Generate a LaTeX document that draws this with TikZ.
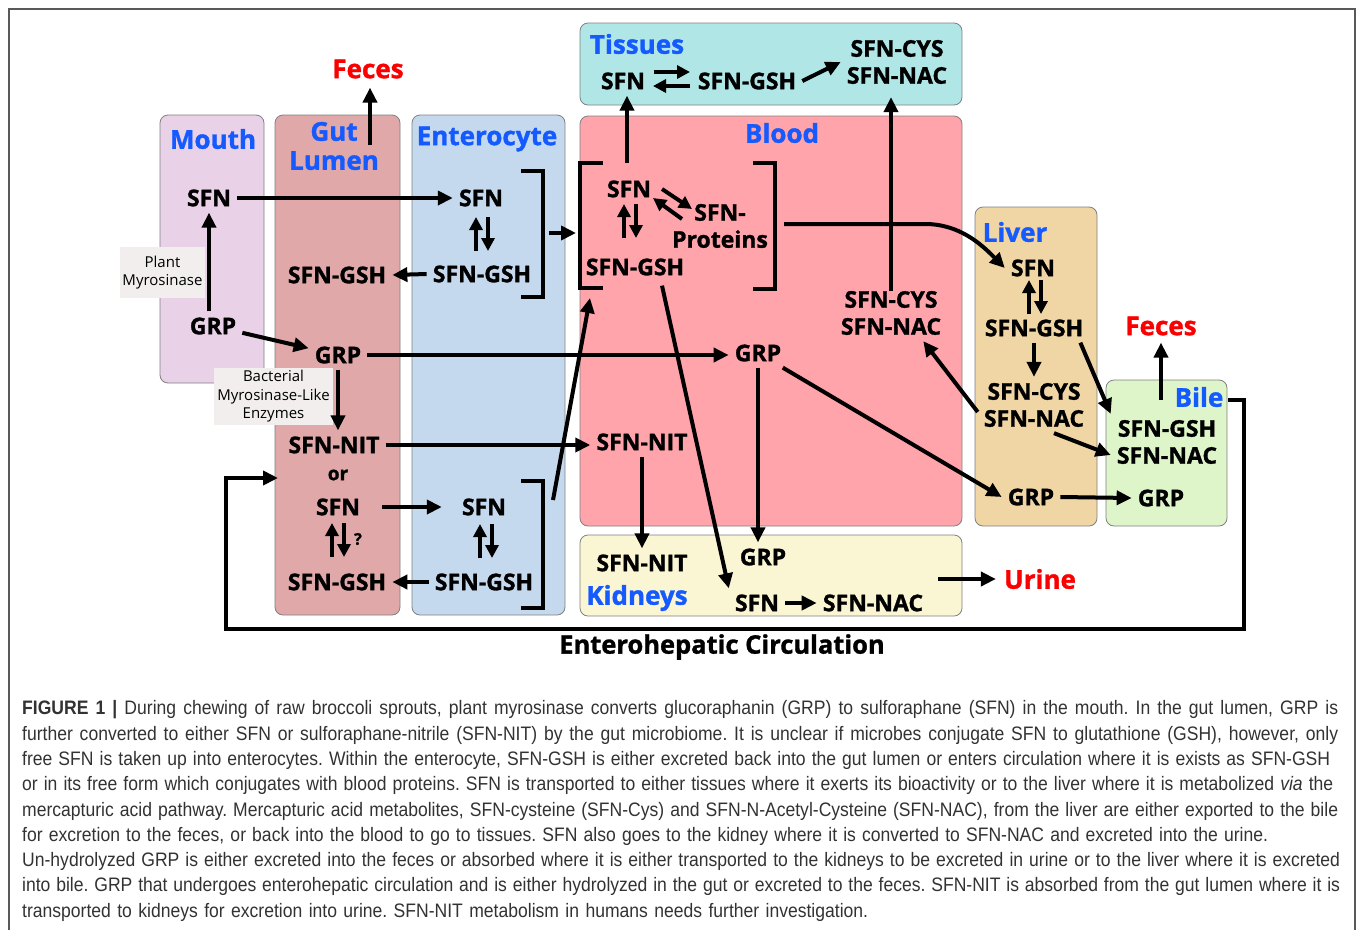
\documentclass[tikz,border=0pt]{standalone}
\usepackage{fontspec}
\setmainfont{Open Sans}[BoldFeatures={FakeBold=1.3}]
\newfontfamily\capfont[FakeStretch=0.9]{Liberation Sans}
\newcommand\capline[2][1316pt]{\makebox[#1][s]{#2}}
\usetikzlibrary{arrows.meta}
\tikzset{>={Triangle[length=15pt,width=14pt]}}
\definecolor{mouthfill}{RGB}{233,209,232}
\definecolor{gutfill}{RGB}{224,168,168}
\definecolor{enterofill}{RGB}{197,217,238}
\definecolor{tissuefill}{RGB}{176,230,230}
\definecolor{bloodfill}{RGB}{255,164,170}
\definecolor{liverfill}{RGB}{240,213,165}
\definecolor{bilefill}{RGB}{222,245,202}
\definecolor{kidneyfill}{RGB}{250,245,210}
\definecolor{enzymegray}{RGB}{242,238,238}
\definecolor{placeblue}{RGB}{20,90,255}
\definecolor{sinkred}{RGB}{250,0,0}
\definecolor{captext}{RGB}{50,50,50}

\begin{document}
\begin{tikzpicture}[x=1pt,y=-1pt,
    organ/.style={draw=black!50, line width=0.8pt, rounded corners=8pt},
    spec/.style={font=\fontsize{23}{27}\selectfont\bfseries, align=center, inner sep=6pt},
    place/.style={font=\fontsize{26}{29}\selectfont\bfseries, text=placeblue, align=center, inner sep=0pt},
    sink/.style={font=\fontsize{26}{29}\selectfont\bfseries, text=sinkred, inner sep=2pt},
    enzyme/.style={fill=enzymegray, font=\fontsize{15}{18.5}\selectfont, align=center, inner sep=0pt},
    flow/.style={->, line width=4pt},
    swap/.style={-{Triangle[length=13pt,width=13pt]}, line width=4pt},
    bracket/.style={line width=4pt}]
    \useasboundingbox (0,0) rectangle (1358,930);
    \draw[black!65, line width=2pt] (9,930) -- (9,9) -- (1355,9) -- (1355,930);

    \draw[organ, fill=mouthfill] (160,115) rectangle (264,383);
    \draw[organ, fill=gutfill] (275,115) rectangle (400,615);
    \draw[organ, fill=enterofill] (412,115) rectangle (565,615);
    \draw[organ, fill=tissuefill] (580,23) rectangle (962,105);
    \draw[organ, fill=bloodfill] (580,116) rectangle (962,526);
    \draw[organ, fill=kidneyfill] (580,535) rectangle (962,616);
    \draw[organ, fill=liverfill] (975,207) rectangle (1097,526);
    \draw[organ, fill=bilefill] (1106,380) rectangle (1227,526);

    \node[enzyme, minimum width=85pt, minimum height=51pt] (plant) at (162.5,272.5) {Plant\\Myrosinase};
    \node[enzyme, minimum width=119pt, minimum height=57pt] (bact) at (273.5,396.5) {Bacterial\\Myrosinase-Like\\Enzymes};

    \node[place] (mouth) at (213,139) {Mouth};
    \node[place] (gut) at (334,146) {Gut\\Lumen};
    \node[place] (entero) at (487,139) {Enterocyte};
    \node[place] (tissues) at (637,44) {Tissues};
    \node[place] (blood) at (782,133) {Blood};
    \node[place] (liver) at (1015,232) {Liver};
    \node[place] (bile) at (1199,397) {Bile};
    \node[place] (kidneys) at (637,598) {Kidneys};

    \node[sink] (lfeces) at (368,69) {Feces};
    \node[sink] (yfeces) at (1161,326) {Feces};
    \node[sink] (urine) at (1040,579) {Urine};

    \node[spec] (msfn) at (209,198) {SFN};
    \node[spec] (mgrp) at (213,326) {GRP};
    \node[spec] (lgsh) at (337,275) {SFN-GSH};
    \node[spec] (lgrp) at (338,355) {GRP};
    \node[spec] (lnit) at (334,445) {SFN-NIT};
    \node[spec, font=\fontsize{19}{22}\selectfont\bfseries] (lor) at (338,475) {or};
    \node[spec] (lsfn) at (338,507) {SFN};
    \node[spec] (lgsh2) at (337,582) {SFN-GSH};
    \node[spec, font=\fontsize{16}{18}\selectfont\bfseries, inner sep=0pt] (lq) at (358,539) {?};
    \node[spec] (esfn) at (481,198) {SFN};
    \node[spec] (egsh) at (482,274) {SFN-GSH};
    \node[spec] (esfn2) at (484,507) {SFN};
    \node[spec] (egsh2) at (484,582) {SFN-GSH};
    \node[spec] (tsfn) at (623,81) {SFN};
    \node[spec] (tgsh) at (747,81) {SFN-GSH};
    \node[spec] (tcys) at (897,62) {SFN-CYS\\SFN-NAC};
    \node[spec] (bsfn) at (629,189) {SFN};
    \node[spec] (bprot) at (720,226) {SFN-\\Proteins};
    \node[spec] (bgsh) at (635,267) {SFN-GSH};
    \node[spec] (bcys) at (891,313) {SFN-CYS\\SFN-NAC};
    \node[spec] (bgrp) at (758,353) {GRP};
    \node[spec] (bnit) at (642,442) {SFN-NIT};
    \node[spec] (knit) at (642,563) {SFN-NIT};
    \node[spec] (kgrp) at (763,557) {GRP};
    \node[spec] (ksfn) at (757,603) {SFN};
    \node[spec] (knac) at (873,603) {SFN-NAC};
    \node[spec] (vsfn) at (1033,268) {SFN};
    \node[spec] (vgsh) at (1034,328) {SFN-GSH};
    \node[spec] (vcys) at (1034,405) {SFN-CYS\\SFN-NAC};
    \node[spec] (vgrp) at (1031,497) {GRP};
    \node[spec] (ygsh) at (1167,442) {SFN-GSH\\SFN-NAC};
    \node[spec] (ygrp) at (1161,498) {GRP};
    \node[font=\fontsize{25.5}{28}\selectfont\bfseries] (circ) at (722,647) {Enterohepatic Circulation};

    \draw[bracket] (521,171) -- (543,171) -- (543,297) -- (521,297);
    \draw[bracket] (521,481) -- (543,481) -- (543,608) -- (521,608);
    \draw[bracket] (603,163) -- (580,163) -- (580,288) -- (603,288);
    \draw[bracket] (753,163) -- (775,163) -- (775,289) -- (753,289);
    \coordinate (ebout) at (549,233);
    \coordinate (bbin) at (576,233);
    \coordinate (ebout2) at (553,500);
    \coordinate (bbbot) at (590,298);
    \coordinate (bbtop) at (627,163);
    \coordinate (bbright) at (784,224);
    \coordinate (lout) at (370,145);
    \coordinate (yout) at (1161,400);
    \coordinate (kout) at (938,579);
    \coordinate (ehout) at (1228,400);
    \coordinate (ehin) at (278,478);

    \foreach \x/\y in {482/234, 486/541, 338/540, 630/221, 1035/297} {
        \draw[swap] (\x-6,\y+17) -- (\x-6,\y-17);
        \draw[swap] (\x+6,\y-17) -- (\x+6,\y+17);
    }
    \draw[swap] (654,72) -- (690,72);
    \draw[swap] (690,86) -- (653,86);
    \draw[swap] (662,189) -- (692,209);
    \draw[swap] (682,219) -- (653,198);

    \draw[flow] (mgrp.north -| msfn) -- (msfn.south);
    \draw[flow] (msfn) -- (esfn);
    \draw[flow] (mgrp) -- (lgrp);
    \draw[flow] (lgrp.south) -- (lgrp.south |- lnit.north);
    \draw[flow] (lgrp.east) -- (lgrp.east -| bgrp.west);
    \draw[flow] (lnit.east) -- (lnit.east -| bnit.west);
    \draw[flow, shorten <=16pt, shorten >=14pt] (lsfn.east) -- (lsfn.east -| esfn2.west);
    \draw[flow] (egsh.west) -- (lgsh.east);
    \draw[flow] (egsh2.west) -- (lgsh2.east);
    \draw[flow, shorten >=7pt] (lout) -- (lout |- lfeces.south);
    \draw[flow] (ebout) -- (bbin);
    \draw[flow] (ebout2) -- (bbbot);
    \draw[flow] (tgsh.east) -- (tcys.west);
    \draw[flow] (bbtop) -- (bbtop |- tsfn.south);
    \draw[flow, shorten <=-6pt, shorten >=7pt] (bcys.north) -- (bcys.north |- tcys.south);
    \draw[flow] (bbright) -- (925,224) .. controls (960,224) and (982,245) .. (vsfn.west);
    \draw[flow] (bgrp.south) -- (bgrp.south |- kgrp.north);
    \draw[flow] (bgrp) -- (vgrp.west);
    \draw[flow] (bnit.south) -- (bnit.south |- knit.north);
    \draw[flow] ([xshift=27pt,yshift=-4pt]bgsh.south) -- (ksfn.north west);
    \draw[flow] (ksfn.east) -- (knac.west);
    \draw[flow, shorten >=6pt] (kout) -- (urine.west);
    \draw[flow] ([yshift=-7pt]vcys.west) -- ([xshift=-24pt]bcys.south east);
    \draw[flow] (vgsh.south) -- (vgsh.south |- vcys.north);
    \draw[flow] ([xshift=-9pt]vgsh.south east) -- (ygsh.north west);
    \draw[flow] ([xshift=20pt]vcys.south) -- ([yshift=-13pt]ygsh.west);
    \draw[flow] (vgrp.east) -- (ygrp.west);
    \draw[flow, shorten >=5pt] (yout) -- (yfeces.south);
    \draw[flow] (ehout) -- (1244,400) |- (226,629) |- (ehin);

    \node[anchor=west, align=left, inner sep=0pt, text=captext,
        font=\capfont\fontsize{19.5}{25.3}\selectfont\frenchspacing] (caption) at (22,811)
        {\capline{{\bfseries FIGURE 1 |} During chewing of raw broccoli sprouts, plant myrosinase converts glucoraphanin (GRP) to sulforaphane (SFN) in the mouth. In the gut lumen, GRP is}\\
        \capline{further converted to either SFN or sulforaphane-nitrile (SFN-NIT) by the gut microbiome. It is unclear if microbes conjugate SFN to glutathione (GSH), however, only}\\
        \capline[1308pt]{free SFN is taken up into enterocytes. Within the enterocyte, SFN-GSH is either excreted back into the gut lumen or enters circulation where it is exists as SFN-GSH}\\
        \capline[1311pt]{or in its free form which conjugates with blood proteins. SFN is transported to either tissues where it exerts its bioactivity or to the liver where it is metabolized {\itshape via} the}\\
        \capline{mercapturic acid pathway. Mercapturic acid metabolites, SFN-cysteine (SFN-Cys) and SFN-N-Acetyl-Cysteine (SFN-NAC), from the liver are either exported to the bile}\\
        \capline[1246pt]{for excretion to the feces, or back into the blood to go to tissues. SFN also goes to the kidney where it is converted to SFN-NAC and excreted into the urine.}\\
        \capline[1318pt]{Un-hydrolyzed GRP is either excreted into the feces or absorbed where it is either transported to the kidneys to be excreted in urine or to the liver where it is excreted}\\
        \capline[1318pt]{into bile. GRP that undergoes enterohepatic circulation and is either hydrolyzed in the gut or excreted to the feces. SFN-NIT is absorbed from the gut lumen where it is}\\
        \capline[846pt]{transported to kidneys for excretion into urine. SFN-NIT metabolism in humans needs further investigation.}};
\end{tikzpicture}
\end{document}
